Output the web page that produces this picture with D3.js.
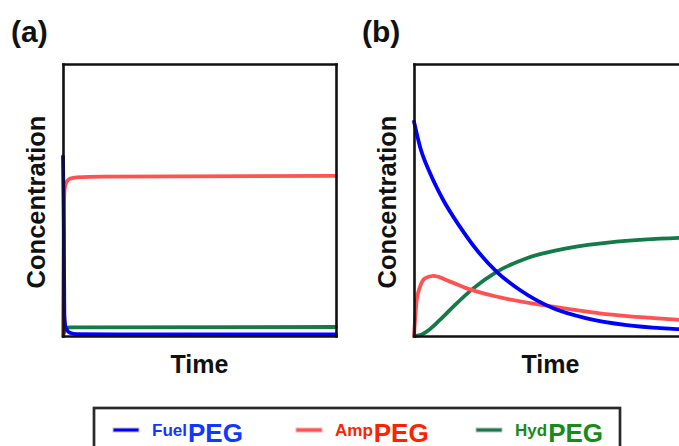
<!DOCTYPE html>
<html>
<head>
<meta charset="utf-8">
<script src="https://cdn.jsdelivr.net/npm/d3@7"></script>
<style>
  html, body { margin: 0; padding: 0; background: #fff; }
  svg { display: block; }
  text { font-family: "Liberation Sans", Arial, Helvetica, sans-serif; font-weight: bold; }
</style>
</head>
<body>
<svg id="chart" width="679" height="446"></svg>
<script>
// Time in arbitrary units (0–100), concentration normalised (0–1).

// Panel (a): fast kinetics
const timeFuelA = [0, 0.3, 0.5, 1, 2.5, 5, 20, 100];
const fuelA     = [0.66, 0.40, 0.08, 0.03, 0.012, 0.007, 0.006, 0.006];
const timeAmpA  = [0, 0.3, 0.6, 1.2, 2.5, 5, 15, 100];
const ampA      = [0, 0.45, 0.54, 0.565, 0.578, 0.583, 0.586, 0.589];
const timeHydA  = [0, 0.5, 1.2, 2.5, 100];
const hydA      = [0, 0.015, 0.028, 0.032, 0.033];

// Panel (b): slow kinetics
const timeFuelB = [0, 2.2, 5.9, 10.7, 16.8, 23.0, 30.3, 38.8, 51.0, 63.3, 77.9, 97.1, 100];
const fuelB     = [0.788, 0.696, 0.598, 0.5, 0.402, 0.316, 0.236, 0.169, 0.102, 0.065, 0.040, 0.025, 0.023];
const timeAmpB  = [0, 1.0, 2.2, 4.0, 7.1, 13.2, 19.3, 31.5, 51.0, 68.1, 97.1, 100];
const ampB      = [0, 0.132, 0.181, 0.212, 0.221, 0.200, 0.175, 0.142, 0.108, 0.083, 0.059, 0.057];
const timeHydB  = [0, 2.2, 4.6, 9.5, 14.4, 21.7, 30.3, 41.3, 55.9, 74.2, 97.1, 100];
const hydB      = [0, 0.003, 0.016, 0.059, 0.108, 0.175, 0.236, 0.286, 0.322, 0.347, 0.361, 0.362];

const panelLabels = ["(a)", "(b)"];
const xTitle = "Time";
const yTitle = "Concentration";
const seriesNames = ["Fuel", "Amp", "Hyd"];
const seriesSuffix = "PEG";

const lineColors = ["#0000ff", "#ff5252", "#137a48"];
const textColors = ["#1238ff", "#ff2200", "#1a8a1a"];

const svg = d3.select("#chart");

const panels = [
  { left: 63, label: panelLabels[0], series: [[timeFuelA, fuelA], [timeAmpA, ampA], [timeHydA, hydA]] },
  { left: 414, label: panelLabels[1], series: [[timeFuelB, fuelB], [timeAmpB, ampB], [timeHydB, hydB]] }
];
const plotW = 273, plotTop = 64, plotBottom = 336;

panels.forEach((p, pi) => {
  const x = d3.scaleLinear().domain([0, 100]).range([p.left, p.left + plotW]);
  const y = d3.scaleLinear().domain([0, 1]).range([plotBottom, plotTop]);
  const g = svg.append("g");

  // curves (drawn first so the frame sits on top)
  const line = d3.line()
    .x(d => x(d[0]))
    .y(d => y(d[1]))
    .curve(d3.curveMonotoneX);
  const order = [2, 1, 0];
  order.forEach(si => {
    const [ts, vs] = p.series[si];
    const pts = ts.map((t, i) => [t, vs[i]]);
    g.append("path")
      .datum(pts)
      .attr("d", line)
      .attr("fill", "none")
      .attr("stroke", lineColors[si])
      .attr("stroke-width", 3.8)
      .attr("stroke-linejoin", "round")
      .attr("stroke-linecap", "round");
  });

  // frame: plain axes without ticks on all four sides
  const frame = [
    [d3.axisBottom(x).tickValues([]).tickSizeOuter(0), `translate(0,${plotBottom})`],
    [d3.axisTop(x).tickValues([]).tickSizeOuter(0), `translate(0,${plotTop})`],
    [d3.axisLeft(y).tickValues([]).tickSizeOuter(0), `translate(${p.left},0)`],
    [d3.axisRight(y).tickValues([]).tickSizeOuter(0), `translate(${p.left + plotW},0)`]
  ];
  frame.forEach(([ax, tr]) => {
    const a = g.append("g").attr("transform", tr).call(ax);
    a.select(".domain").attr("stroke", "#111").attr("stroke-width", 2.6).attr("stroke-linecap", "square");
  });

  // panel letter
  svg.append("text")
    .attr("x", p.left - 52)
    .attr("y", 42)
    .attr("font-size", 30)
    .attr("fill", "#111")
    .text(p.label);

  // axis titles
  svg.append("text")
    .attr("x", p.left + plotW / 2)
    .attr("y", 373)
    .attr("text-anchor", "middle")
    .attr("font-size", 25)
    .attr("fill", "#111")
    .text(xTitle);

  svg.append("text")
    .attr("transform", `translate(${p.left - 18},202) rotate(-90)`)
    .attr("text-anchor", "middle")
    .attr("font-size", 25.5)
    .attr("fill", "#111")
    .text(yTitle);
});

// legend
const legend = svg.append("g");
legend.append("rect")
  .attr("x", 94).attr("y", 408)
  .attr("width", 526).attr("height", 60)
  .attr("fill", "#fff")
  .attr("stroke", "#2a2a2a")
  .attr("stroke-width", 2.7);

const legendX = [113, 296, 476];
seriesNames.forEach((name, i) => {
  const lx = legendX[i];
  legend.append("rect")
    .attr("x", lx).attr("y", 428)
    .attr("width", 26).attr("height", 4)
    .attr("fill", lineColors[i])
    .attr("stroke", i === 1 ? "#ffb0b0" : "#c4c4c4")
    .attr("stroke-width", 1);
  const t = legend.append("text")
    .attr("x", lx + 39)
    .attr("y", 442)
    .attr("fill", textColors[i]);
  t.append("tspan").attr("font-size", 17).attr("dy", -6).text(name);
  t.append("tspan").attr("font-size", 26).attr("dy", 6).attr("dx", 1).text(seriesSuffix);
});
</script>
</body>
</html>
